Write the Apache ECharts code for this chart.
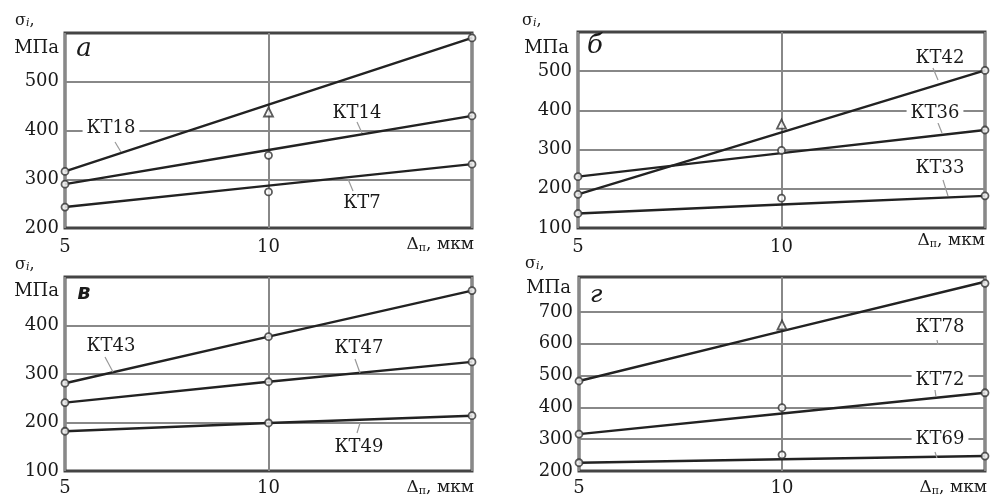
<!DOCTYPE html>
<html><head><meta charset="utf-8">
<script src="https://cdn.jsdelivr.net/npm/echarts@6/dist/echarts.min.js"></script>
<style>html,body{margin:0;padding:0;background:#fff}#c{width:998px;height:497px}</style>
</head><body><div id="c"></div>
<script>
// X values (Δп, мкм)
const xVals = [5, 10, 15];

// Panel а
const kt18Fit = [316, 453, 590], kt18Pts = [316, 438, 590];
const kt14Fit = [290, 360, 430], kt14Pts = [290, 349, 430];
const kt7Fit  = [243, 287, 331], kt7Pts  = [243, 274, 331];
// Panel б
const kt42Fit = [186, 344, 502], kt42Pts = [186, 365, 502];
const kt36Fit = [231, 291, 350], kt36Pts = [231, 298, 350];
const kt33Fit = [137, 160, 182], kt33Pts = [137, 176, 182];
// Panel в
const kt43Fit = [281, 377, 472], kt43Pts = [281, 377, 472];
const kt47Fit = [241, 284, 325], kt47Pts = [241, 284, 325];
const kt49Fit = [182, 199, 214], kt49Pts = [182, 199, 214];
// Panel г
const kt78Fit = [483, 640, 795], kt78Pts = [483, 659, 790];
const kt72Fit = [316, 381, 446], kt72Pts = [316, 399, 446];
const kt69Fit = [226, 237, 247], kt69Pts = [226, 251, 247];

// Y axis ranges / ticks per panel
const yRanges = [[200, 600], [100, 600], [100, 500], [200, 810]];
const yLabelMax = [500, 500, 400, 700];

const FONT = 'DejaVu Serif';
const grids = [
  {left: 65, top: 33, width: 407, height: 195},
  {left: 578, top: 32, width: 407, height: 196},
  {left: 65, top: 277, width: 407, height: 196},
  {left: 579, top: 277, width: 406, height: 197}
];
const xMargins = [10, 10, 8, 8];

const panels = [
  [[kt18Fit, kt18Pts, true], [kt14Fit, kt14Pts, false], [kt7Fit, kt7Pts, false]],
  [[kt42Fit, kt42Pts, true], [kt36Fit, kt36Pts, false], [kt33Fit, kt33Pts, false]],
  [[kt43Fit, kt43Pts, false], [kt47Fit, kt47Pts, false], [kt49Fit, kt49Pts, false]],
  [[kt78Fit, kt78Pts, true], [kt72Fit, kt72Pts, false], [kt69Fit, kt69Pts, false]]
];

const chart = echarts.init(document.getElementById('c'));
const grid = grids.map(g => Object.assign({show: true, borderColor: '#444', borderWidth: 3, backgroundColor: '#fff'}, g));
const xAxis = grids.map((g, i) => ({
  type: 'value', gridIndex: i, min: 5, max: 15, interval: 5,
  axisLine: {show: false}, axisTick: {show: false},
  splitLine: {show: true, lineStyle: {color: '#888', width: 2}},
  axisLabel: {fontFamily: FONT, fontSize: 18, color: '#1a1a1a', margin: xMargins[i],
    formatter: v => v >= 15 ? '' : String(v)}
}));
const yAxis = grids.map((g, i) => {
  const [mn, mx] = yRanges[i];
  const ticks = [];
  for (let v = mn; v < mx; v += 100) ticks.push(v);
  ticks.push(mx);
  const colors = ticks.map(v => (v > yLabelMax[i] + 50 || v === mn) ? 'rgba(0,0,0,0)' : '#888');
  return {
    type: 'value', gridIndex: i, min: mn, max: mx, interval: 100,
    axisLine: {show: false}, axisTick: {show: false},
    splitLine: {show: true, lineStyle: {color: colors, width: 2}},
    axisLabel: {fontFamily: FONT, fontSize: 18, color: '#1a1a1a', margin: 6,
      formatter: v => (v <= yLabelMax[i] && v % 100 === 0) ? String(v) : ''}
  };
});

const series = [];
panels.forEach((lines, gi) => {
  lines.forEach(([fit, pts, tri]) => {
    series.push({type: 'line', xAxisIndex: gi, yAxisIndex: gi, data: xVals.map((x, k) => [x, fit[k]]),
      symbol: 'none', lineStyle: {color: '#222', width: 2.4}, z: 3, silent: true});
    series.push({type: 'scatter', xAxisIndex: gi, yAxisIndex: gi,
      data: xVals.map((x, k) => ({value: [x, pts[k]], symbol: (tri && k === 1) ? 'triangle' : 'circle',
        symbolSize: (tri && k === 1) ? 9 : 7})),
      itemStyle: {color: '#fff', borderColor: '#333', borderWidth: 1.8}, z: 4, silent: true});
  });
});

const txt = (text, x, y, opts) => Object.assign({type: 'text', z: 20, style: Object.assign({
  text, x, y, font: '18px "' + FONT + '"', fill: '#1a1a1a', align: 'center', verticalAlign: 'middle'}, opts || {})});
const lbl = (text, x, y) => txt(text, x, y, {backgroundColor: '#fff', padding: [1, 4]});
const lead = (x1, y1, x2, y2) => ({type: 'line', z: 19, shape: {x1, y1, x2, y2}, style: {stroke: '#999', lineWidth: 1.2}});
const unitSig = (x, y) => ({type: 'text', z: 20, style: {x, y, text: '{s|σ}{i|i}{s|,}', align: 'left', verticalAlign: 'middle',
  rich: {s: {fontFamily: FONT, fontSize: 16, fill: '#1a1a1a'}, i: {fontFamily: FONT, fontStyle: 'italic', fontSize: 11, fill: '#1a1a1a', padding: [5, 0, 0, 0]}}}});
const unitMPa = (x, y) => txt('МПа', x, y, {align: 'right'});
const xName = (x, y) => ({type: 'text', z: 20, style: {x, y, text: '{a|Δ}{b|п}{a|, мкм}', align: 'right', verticalAlign: 'middle',
  rich: {a: {fontFamily: FONT, fontSize: 17, fill: '#1a1a1a'}, b: {fontFamily: FONT, fontSize: 11, fill: '#1a1a1a', padding: [6, 0, 0, 0]}}}});

const graphic = [
  // panel а
  unitSig(15, 21), unitMPa(59, 48), txt('а', 84, 49, {font: 'italic 26px "' + FONT + '"'}), xName(474, 245),
  lbl('КТ18', 111, 128), lead(115, 142, 121, 152),
  txt('КТ14', 357, 113), lead(357, 122, 362, 133),
  txt('КТ7', 362, 203), lead(348, 179, 353, 191),
  // panel б
  unitSig(522, 21), unitMPa(569, 48), txt('б', 595, 46, {font: 'italic 26px "' + FONT + '"'}), xName(985, 241),
  txt('КТ42', 940, 58), lead(933, 68, 938, 80),
  lbl('КТ36', 935, 113), lead(938, 123, 942, 133),
  txt('КТ33', 940, 168), lead(943, 180, 948, 196),
  // panel в
  unitSig(15, 265), unitMPa(59, 291), txt('в', 84, 294, {font: 'bold italic 21px "DejaVu Sans"'}), xName(474, 488),
  txt('КТ43', 111, 346), lead(105, 357, 113, 372),
  txt('КТ47', 359, 348), lead(355, 359, 360, 373),
  txt('КТ49', 359, 447), lead(360, 423, 357, 433),
  // panel г
  unitSig(525, 264), unitMPa(571, 288), txt('г', 596, 295, {font: 'italic 25px "' + FONT + '"'}), xName(987, 488),
  txt('КТ78', 940, 327), lead(937, 340, 938, 345),
  lbl('КТ72', 940, 380), lead(935, 390, 936, 397),
  lbl('КТ69', 940, 439), lead(935, 452, 937, 458)
];

chart.setOption({animation: false, backgroundColor: '#fff', grid, xAxis, yAxis, series, graphic});
</script></body></html>
